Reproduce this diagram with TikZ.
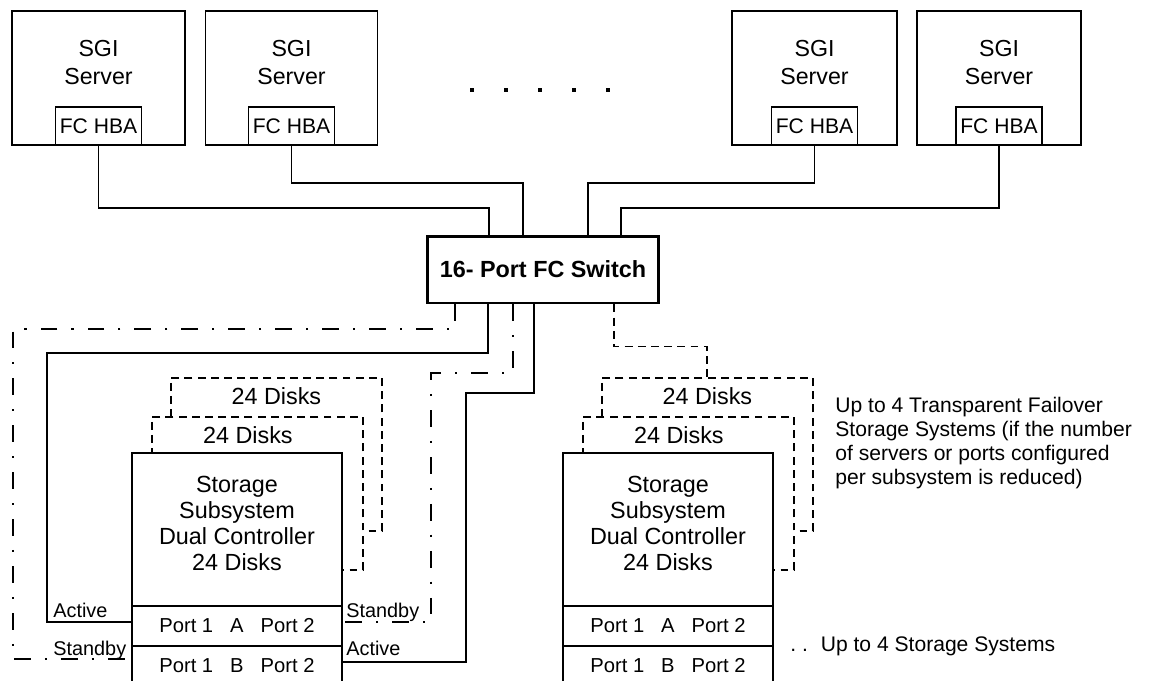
\documentclass[tikz,border=0pt]{standalone}
\usepackage{fontspec}
\setmainfont{Liberation Sans}
\usetikzlibrary{positioning}
\begin{document}
\begin{tikzpicture}[x=0.02cm, y=-0.02cm,
    server/.style = {draw, line width=0.9pt, minimum height=2.68cm,
        label={[align=center, anchor=north, yshift=-0.47cm, font=\fontsize{13.2}{15.9}\selectfont]north:SGI\\Server}},
    hba/.style = {draw, line width=0.9pt, fill=white, minimum width=1.72cm, minimum height=0.76cm, inner sep=0pt, font=\fontsize{12}{14}\selectfont},
    switch/.style = {draw, line width=1.7pt, minimum width=4.64cm, minimum height=1.34cm, font=\fontsize{13.3}{15}\selectfont\bfseries},
    disk/.style = {draw, line width=1pt, dash pattern=on 4.5pt off 3pt, fill=white, minimum width=4.22cm, minimum height=3.06cm},
    dlab/.style = {anchor=north, yshift=-0.09cm, font=\fontsize{13.3}{15}\selectfont},
    ctl/.style = {draw, line width=1pt, fill=white, outer sep=0pt, minimum width=4.2cm, minimum height=3.06cm, align=center, text depth=0.25cm, font=\fontsize{13.3}{14.9}\selectfont},
    port/.style = {draw, line width=0.7pt, fill=white, outer sep=0pt, minimum width=4.2cm, minimum height=0.8cm, inner sep=0pt, font=\fontsize{11.5}{13}\selectfont},
    link/.style = {line width=1.1pt},
    stby/.style = {line width=1.1pt, dash pattern=on 9.5pt off 8pt on 1.2pt off 8pt},
    tag/.style = {anchor=base west, inner sep=0pt, font=\fontsize{11.3}{13}\selectfont},
    note/.style = {align=left, inner sep=0pt, font=\fontsize{12}{13.6}\selectfont}]
    \useasboundingbox (0,0) rectangle (1162,680);
    \clip (0,0) rectangle (1162,680);
    % servers
    \foreach \i/\x/\w in {1/98.5/3.46, 2/291.5/3.44, 3/814.5/3.3, 4/999/3.28} {
        \node[server, minimum width=\w cm] (s\i) at (\x,78) {};
        \node[hba, anchor=south] (h\i) at (s\i.south) {FC HBA};
    }
    \foreach \x in {472,506,...,608} \fill (\x-1.6,88.4) rectangle +(3.2,3.2);
    \node[switch] (sw) at (543,269.5) {16- Port FC Switch};
    \draw[link] (h1.south) -- ++(0,62) -| ([xshift=-1.08cm]sw.north);
    \draw[link] (h2.south) -- ++(0,37) -| ([xshift=-0.4cm]sw.north);
    \draw[link] (h3.south) -- ++(0,37) -| ([xshift=0.9cm]sw.north);
    \draw[link] (h4.south) -- ++(0,62) -| ([xshift=1.56cm]sw.north);
    % storage systems
    \foreach \i/\x in {1/132, 2/563} {
        \node[disk, anchor=north west, label={[dlab]north:24 Disks}] (b\i) at (\x+38,377) {};
        \node[disk, anchor=north west, label={[dlab, xshift=-0.19cm]north:24 Disks}] (m\i) at (\x+19,416) {};
        \node[ctl, anchor=north west] (c\i) at (\x,453) {Storage\\Subsystem\\Dual Controller\\24 Disks};
        \node[port, below=0pt of c\i] (pa\i) {Port 1\hspace{0.34cm}A\hspace{0.34cm}Port 2};
        \node[port, below=0pt of pa\i] (pb\i) {Port 1\hspace{0.34cm}B\hspace{0.34cm}Port 2};
    }
    \draw[stby] ([xshift=-1.76cm]sw.south) |- (13,329) |- ([yshift=4pt]pb1.west);
    \draw[link] ([xshift=-1.1cm]sw.south) |- (47,353) |- ([yshift=2pt]pa1.west);
    \draw[stby] ([xshift=-0.6cm]sw.south) |- (431,373) |- ([yshift=2pt]pa1.east);
    \draw[link] ([xshift=-0.18cm]sw.south) |- (466,393) |- ([yshift=2pt]pb1.east);
    \draw[disk] ([xshift=1.42cm]sw.south) -- ++(0,42) -| (b2.north);
    \node[tag] (act1) at (53,617) {Active};
    \node[tag] (stb1) at (53,655) {Standby};
    \node[tag] (stb2) at (346,617) {Standby};
    \node[tag] (act2) at (346,655) {Active};
    \node[note, anchor=north west] (fail) at (835,397) {Up to 4 Transparent Failover\\Storage Systems (if the number\\of servers or ports configured\\per subsystem is reduced)};
    \node[note, anchor=base west] (more) at (790,651) {.\ .\hspace{0.14cm}\ Up to 4 Storage Systems};
\end{tikzpicture}
\end{document}
